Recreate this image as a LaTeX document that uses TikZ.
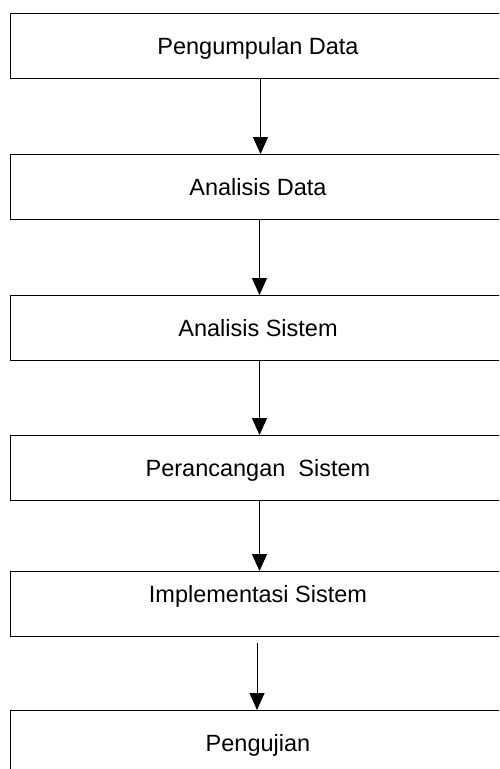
\documentclass[tikz,border=0pt]{standalone}
\usepackage{fontspec}
\setmainfont{Liberation Sans}
\usetikzlibrary{arrows.meta}
\newcommand{\boxtext}[1]{\makebox[0pt][c]{\hspace*{-35pt}#1}}
\begin{document}
\begin{tikzpicture}[x=1pt,y=1pt,
  stagebox/.style={draw=black, line width=1pt, rectangle, anchor=north west,
    minimum width=530pt, minimum height=65pt, inner sep=0pt,
    font=\fontsize{23.5}{28}\selectfont, text height=16.8pt, text depth=0pt},
  flowarrow/.style={draw=black, line width=1pt, -{Triangle[width=15pt,length=17pt]}}]
\useasboundingbox (0,0) rectangle (499,-769);
\clip (0,0) rectangle (499,-769);
\fill[white] (0,0) rectangle (499,-769);
\node[stagebox] (b1) at (10,-13) {\boxtext{Pengumpulan Data}};
\node[stagebox] (b2) at (10,-154) {\boxtext{Analisis Data}};
\node[stagebox] (b3) at (10,-295) {\boxtext{Analisis Sistem}};
\node[stagebox] (b4) at (10,-435) {\boxtext{Perancangan~~Sistem}};
\node[stagebox, text depth=20pt] (b5) at (10,-571) {\boxtext{Implementasi Sistem}};
\node[stagebox] (b6) at (10,-710) {\boxtext{Pengujian}};
\draw[flowarrow] ([xshift=-15pt]b1.south) -- ([xshift=-15pt]b2.north);
\draw[flowarrow] ([xshift=-16pt]b2.south) -- ([xshift=-16pt]b3.north);
\draw[flowarrow] ([xshift=-16pt]b3.south) -- ([xshift=-16pt]b4.north);
\draw[flowarrow] ([xshift=-16pt]b4.south) -- ([xshift=-16pt]b5.north);
\draw[flowarrow] ([xshift=-18.5pt,yshift=-6pt]b5.south) -- ([xshift=-18.5pt]b6.north);
\end{tikzpicture}
\end{document}
